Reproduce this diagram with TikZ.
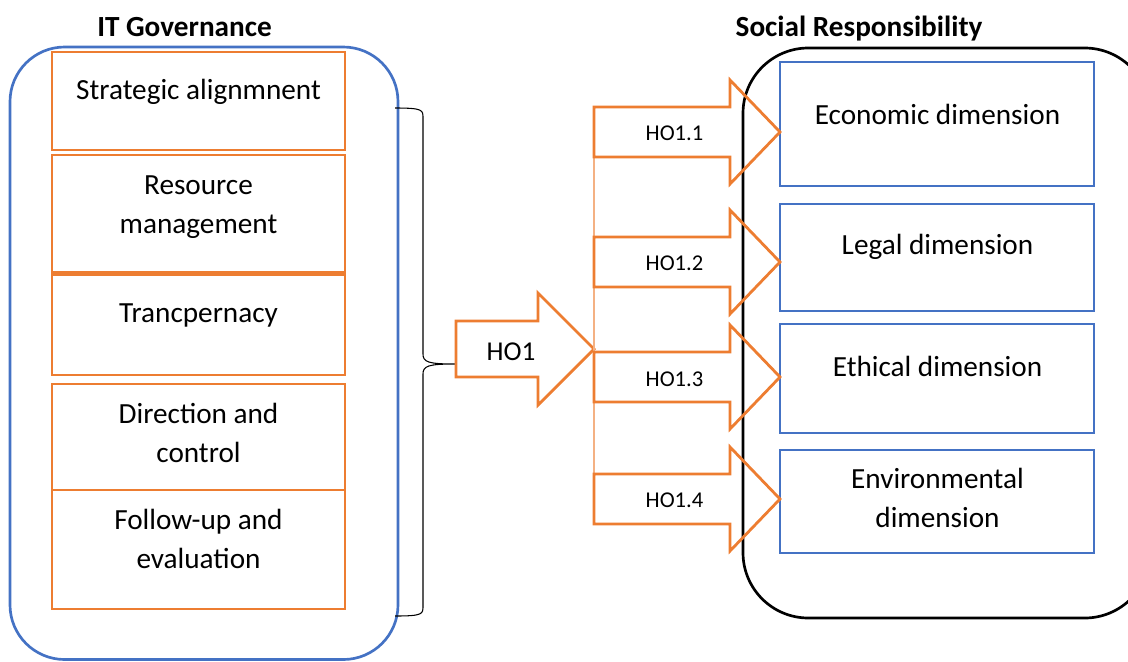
\documentclass[tikz,border=0pt]{standalone}
\usepackage{fontspec}
\setmainfont{Carlito}
\usetikzlibrary{fit}
\definecolor{orng}{HTML}{ED7D31}
\definecolor{blu}{HTML}{4472C4}
\begin{document}
\begin{tikzpicture}[x=0.75bp,y=-0.75bp,
 obox/.style={draw=orng,line width=2bp,inner sep=0pt},
 bbox/.style={draw=blu,line width=1.8bp,inner sep=0pt},
 txt/.style={font=\fontsize{22}{29}\selectfont,align=center,anchor=base,inner sep=0pt},
 ttl/.style={font=\fontsize{22}{29}\selectfont\bfseries,anchor=base,inner sep=0pt},
 lbl/.style={font=\fontsize{17}{20}\selectfont,anchor=base,inner sep=0pt},
 hlbl/.style={font=\fontsize{20.5}{24}\selectfont,anchor=base,inner sep=0pt},
 barrow/.style={draw=orng,line width=2.1bp,line join=miter},
 container/.style={line width=2bp}]
\useasboundingbox (0,0) rectangle (1128,661);
\clip (0,0) rectangle (1128,661);
% titles
\node[ttl] (t1) at (184.5,36) {IT Governance};
\node[ttl] (t2) at (859,36) {Social Responsibility};
% containers
\draw[container,draw=blu,rounded corners=41bp] (10,47) rectangle (398,659.5);
\draw[container,draw=black,rounded corners=49bp] (743,48) rectangle (1150,618);
% left boxes
\node[obox,fit={(52,52) (345,150)}] (b1) {};
\node[obox,fit={(52,155) (345,272)}] (b2) {};
\node[obox,fit={(52,274.5) (345,375)}] (b3) {};
\node[obox,fit={(52,384) (345,490)}] (b4) {};
\node[obox,fit={(52,490) (345,609)}] (b5) {};
\node[txt] (l1) at (198.5,99) {Strategic alignmnent};
\node[txt] (l2) at (198.5,233) {Resource\\management};
\node[txt] (l3) at (198.5,322) {Trancpernacy};
\node[txt] (l4) at (198.5,462) {Direction and\\control};
\node[txt] (l5) at (198.5,568) {Follow-up and\\evaluation};
% right boxes
\node[bbox,fit={(780,62) (1094,186)}] (r1) {};
\node[bbox,fit={(780,204) (1094,311)}] (r2) {};
\node[bbox,fit={(780,324) (1094,433)}] (r3) {};
\node[bbox,fit={(780,450) (1094,553)}] (r4) {};
\node[txt] (e1) at (937.5,124) {Economic dimension};
\node[txt] (e2) at (937.5,254.5) {Legal dimension};
\node[txt] (e3) at (937.5,376.5) {Ethical dimension};
\node[txt] (e4) at (937.5,527) {Environmental\\dimension};
% brace
\coordinate (bt) at (395,108);
\coordinate (bb) at (395,616);
\coordinate (bm) at (455,364);
\draw[line width=0.8bp] (bt) .. controls (423,108) and (423,110) .. (423,118) -- (423,354)
  .. controls (423,362) and (428,364) .. (bm)
  .. controls (428,364) and (423,366) .. (423,374) -- (423,606)
  .. controls (423,614) and (423,616) .. (bb);
% HO1 arrow
\draw[barrow] (456,321) -- (538,321) -- (538,293) -- (594,349) -- (538,405) -- (538,377) -- (456,377) -- cycle;
\node[hlbl] (h0) at (511,360) {HO1};
% connecting thin line
\draw[draw=orng!60,line width=0.8bp] (594,140) -- (594,474);
% small arrows
\foreach \c/\n in {132/1,262/2,377/3,499/4}{
  \draw[barrow] (594,\c-25) -- (730,\c-25) -- (730,\c-52) -- (780,\c) -- (730,\c+52) -- (730,\c+25) -- (594,\c+25) -- cycle;
}
\node[lbl] (h1) at (674.5,140) {HO1.1};
\node[lbl] (h2) at (674.5,270) {HO1.2};
\node[lbl] (h3) at (674.5,386) {HO1.3};
\node[lbl] (h4) at (674.5,507) {HO1.4};
\end{tikzpicture}
\end{document}
